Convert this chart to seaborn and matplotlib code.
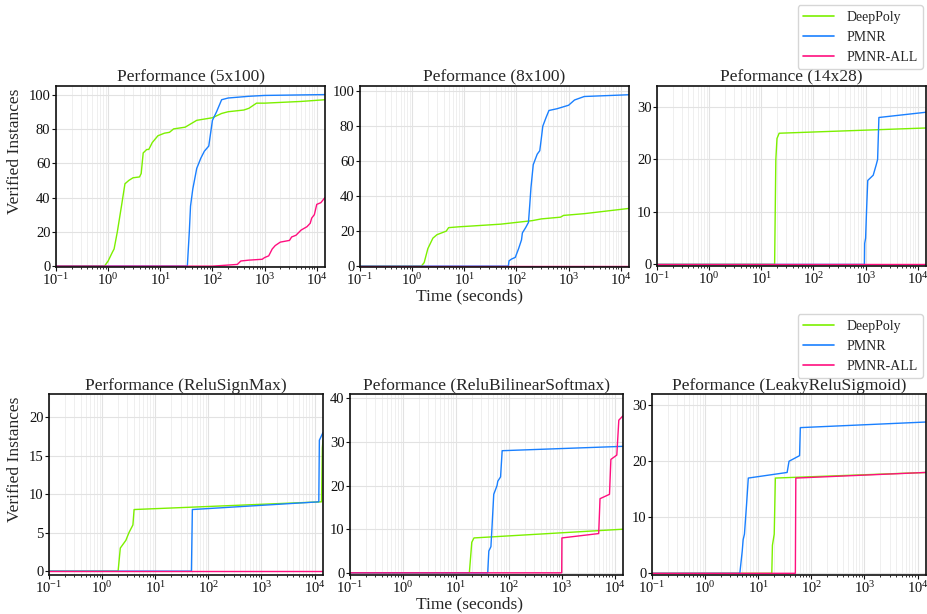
import numpy as np
import pandas as pd
import seaborn as sns
import matplotlib.pyplot as plt
from matplotlib.ticker import LogLocator, NullFormatter

methods = ["DeepPoly", "PMNR", "PMNR-ALL"]
colors = {"DeepPoly": "#7cf000", "PMNR": "#1a80ff", "PMNR-ALL": "#ff0f7f"}

titles = ["Performance (5x100)", "Peformance (8x100)", "Peformance (14x28)",
          "Performance (ReluSignMax)", "Peformance (ReluBilinearSoftmax)",
          "Peformance (LeakyReluSigmoid)"]

# (time, verified) points per panel and method
p1_deeppoly_t = [0.1, 0.85, 1.0, 1.2, 1.3, 1.5, 1.8, 2.1, 2.5, 3, 4, 4.3, 4.7, 5.5, 6, 6.5, 7, 9, 12, 15, 18, 30, 50, 100, 150, 200, 400, 500, 700, 1000, 5000, 14400]
p1_deeppoly_y = [0, 0, 3, 8, 10, 20, 35, 48, 50, 51.5, 52, 54, 66, 68, 68, 70, 72, 76, 77.5, 78, 80, 81, 85, 86.5, 89, 90, 91, 92, 95, 95, 96, 97]
p1_pmnr_t = [0.1, 33, 36, 38, 42, 50, 60, 70, 85, 100, 120, 150, 200, 500, 1000, 14400]
p1_pmnr_y = [0, 0, 20, 35, 45, 57, 63, 67, 70, 85, 90, 97, 98, 99, 99.5, 100]
p1_all_t = [0.1, 100, 300, 350, 500, 900, 1000, 1200, 1400, 1600, 2000, 3000, 3300, 4000, 5000, 6500, 7500, 8000, 9000, 10000, 12000, 14400]
p1_all_y = [0, 0, 1, 3, 3.5, 4, 5, 6, 10, 12, 14, 15, 17, 18, 21, 23, 25, 28, 30, 36, 37, 40]

p2_deeppoly_t = [0.1, 1.5, 1.7, 2, 2.5, 3, 4.5, 5, 8, 15, 50, 100, 200, 300, 700, 800, 2000, 14400]
p2_deeppoly_y = [0, 0, 2, 10, 16, 18, 20, 22, 22.5, 23, 24, 25, 26, 27, 28, 29, 30, 33]
p2_pmnr_t = [0.1, 70, 72, 80, 95, 110, 125, 130, 150, 170, 180, 190, 210, 250, 280, 300, 320, 370, 420, 600, 1000, 1300, 2000, 14400]
p2_pmnr_y = [0, 0, 3, 4, 5, 10, 15, 19, 22, 25, 35, 45, 58, 64, 66, 73, 80, 85, 89, 90, 92, 95, 97, 98]
p2_all_t = [0.1, 14400]
p2_all_y = [0, 0]

p3_deeppoly_t = [0.1, 18, 19, 20, 22, 14400]
p3_deeppoly_y = [0, 0, 20, 24, 25, 26]
p3_pmnr_t = [0.1, 950, 960, 1000, 1050, 1100, 1400, 1600, 1700, 1800, 14400]
p3_pmnr_y = [0, 0, 4, 5, 11, 16, 17, 19, 20, 28, 29]
p3_all_t = [0.1, 14400]
p3_all_y = [0, 0]

p4_deeppoly_t = [0.1, 2, 2.2, 2.8, 3.2, 3.8, 4, 13500, 14000, 14400]
p4_deeppoly_y = [0, 0, 3, 4, 5, 6, 8, 9, 16, 17]
p4_pmnr_t = [0.1, 48, 50, 12000, 12300, 14400]
p4_pmnr_y = [0, 0, 8, 9, 17, 18]
p4_all_t = [0.1, 14400]
p4_all_y = [0, 0]

p5_deeppoly_t = [0.1, 18, 20, 22, 14400]
p5_deeppoly_y = [0, 0, 7, 8, 10]
p5_pmnr_t = [0.1, 40, 42, 46, 48, 52, 60, 62, 70, 75, 14400]
p5_pmnr_y = [0, 0, 5, 6, 10, 18, 20, 21, 22, 28, 29]
p5_all_t = [0.1, 1000, 1010, 5000, 5300, 8000, 8500, 11000, 12000, 14400]
p5_all_y = [0, 0, 8, 9, 17, 18, 26, 27, 35, 36]

p6_deeppoly_t = [0.1, 18, 18.5, 20, 21, 14400]
p6_deeppoly_y = [0, 0, 5, 7, 17, 18]
p6_pmnr_t = [0.1, 4.5, 5, 5.2, 5.5, 6, 6.5, 35, 38, 60, 62, 14400]
p6_pmnr_y = [0, 0, 4, 6, 7, 12, 17, 18, 20, 21, 26, 27]
p6_all_t = [0.1, 50, 51, 14400]
p6_all_y = [0, 0, 17, 18]

panels = [
    [(p1_deeppoly_t, p1_deeppoly_y), (p1_pmnr_t, p1_pmnr_y), (p1_all_t, p1_all_y)],
    [(p2_deeppoly_t, p2_deeppoly_y), (p2_pmnr_t, p2_pmnr_y), (p2_all_t, p2_all_y)],
    [(p3_deeppoly_t, p3_deeppoly_y), (p3_pmnr_t, p3_pmnr_y), (p3_all_t, p3_all_y)],
    [(p4_deeppoly_t, p4_deeppoly_y), (p4_pmnr_t, p4_pmnr_y), (p4_all_t, p4_all_y)],
    [(p5_deeppoly_t, p5_deeppoly_y), (p5_pmnr_t, p5_pmnr_y), (p5_all_t, p5_all_y)],
    [(p6_deeppoly_t, p6_deeppoly_y), (p6_pmnr_t, p6_pmnr_y), (p6_all_t, p6_all_y)],
]
ylims = [(-0.5, 105), (-0.5, 103), (-0.3, 34), (-0.5, 23), (-0.5, 41), (-0.3, 32)]
yticks = [range(0, 101, 20), range(0, 101, 20), range(0, 31, 10),
          range(0, 21, 5), range(0, 41, 10), range(0, 31, 10)]

sns.set_theme(style="whitegrid")
plt.rcParams["font.family"] = ["Liberation Serif", "DejaVu Serif"]
plt.rcParams["mathtext.fontset"] = "stix"
plt.rcParams["axes.edgecolor"] = "#111111"
plt.rcParams["axes.linewidth"] = 1.2

W, H = 927, 614
fig = plt.figure(figsize=(W / 100, H / 100), dpi=100)
# axes boxes in pixels: left, right, top, bottom
boxes = [(56, 325, 86, 267), (360, 629, 86, 267), (657, 926, 86, 266),
         (49, 323, 394, 575), (350, 623, 394, 575), (652, 926, 394, 575)]

for i, (box, series) in enumerate(zip(boxes, panels)):
    l, r, t, b = box
    ax = fig.add_axes([l / W, 1 - b / H, (r - l) / W, (b - t) / H])
    rows = []
    for m, (ts, ys) in zip(methods, series):
        for tt, yy in zip(ts, ys):
            rows.append((tt, yy, m))
    df = pd.DataFrame(rows, columns=["time", "verified", "method"])
    sns.lineplot(data=df, x="time", y="verified", hue="method", palette=colors,
                 estimator=None, sort=False, linewidth=1.0, ax=ax, legend=False)
    ax.set_xscale("log")
    ax.set_xlim(0.1, 14400)
    ax.set_ylim(*ylims[i])
    ax.set_yticks(list(yticks[i]))
    ax.xaxis.set_major_locator(LogLocator(base=10, numticks=10))
    ax.xaxis.set_minor_locator(LogLocator(base=10, subs=np.arange(2, 10), numticks=20))
    ax.xaxis.set_minor_formatter(NullFormatter())
    ax.grid(True, which="major", color="#e2e2e2", linewidth=0.8)
    ax.grid(True, which="minor", axis="x", color="#ececec", linewidth=0.6)
    ax.tick_params(axis="both", which="major", labelsize=10.5, length=3, width=0.8,
                   bottom=True, left=True, pad=1, colors="#111111")
    ax.tick_params(axis="x", which="minor", length=1.5, width=0.6, bottom=True, colors="#111111")
    ax.set_title(titles[i], fontsize=12.5, pad=3)
    if i in (1, 4):
        ax.set_xlabel("Time (seconds)", fontsize=12.5)
        ax.xaxis.set_label_coords((470 - l) / (r - l), -0.118)
    else:
        ax.set_xlabel("")
    if i in (0, 3):
        ax.set_ylabel("Verified Instances", fontsize=12.5)
        ax.yaxis.set_label_coords(-0.123 if i == 0 else -0.095, 0.64)
    else:
        ax.set_ylabel("")
    if i in (2, 5):
        handles = [plt.Line2D([], [], color=colors[m], linewidth=1.2) for m in methods]
        ax.legend(handles, methods, loc="lower right",
                  bbox_to_anchor=(0.989, 1.094 if i == 2 else 1.088),
                  borderaxespad=0, fontsize=10, handlelength=2.2, handletextpad=0.9,
                  frameon=True, fancybox=True, edgecolor="#cccccc")

fig.savefig("out.png", dpi=100)
